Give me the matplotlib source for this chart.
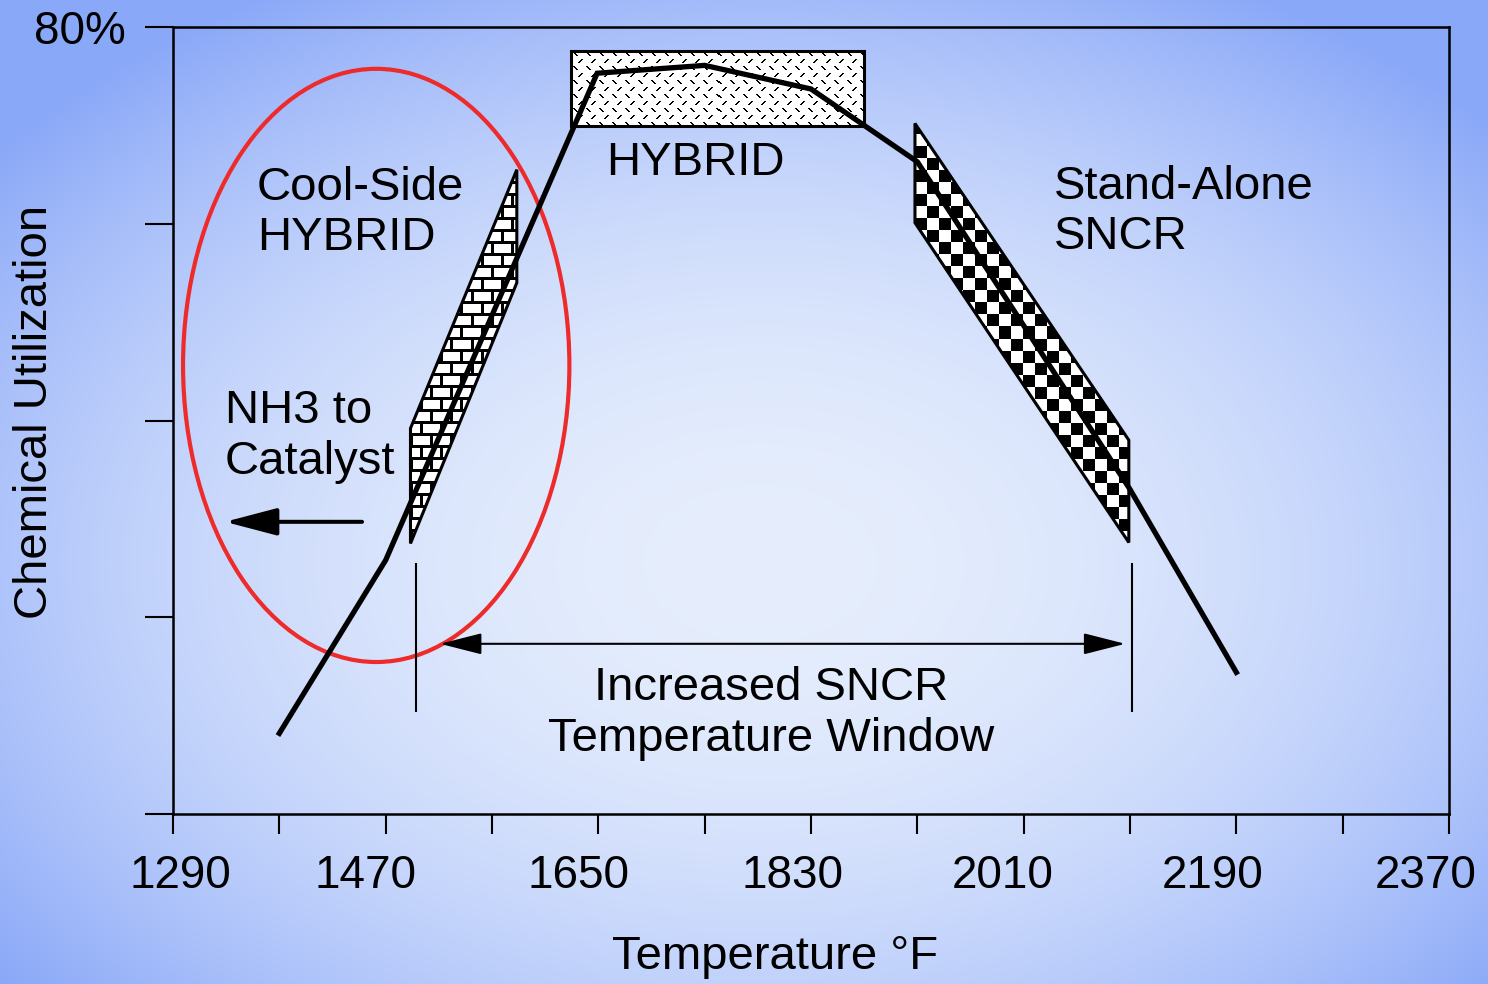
import numpy as np
import matplotlib

matplotlib.use("Agg")
import matplotlib.pyplot as plt
from matplotlib import transforms
from matplotlib.patches import Ellipse, Polygon

plt.rcParams["font.family"] = ["Liberation Sans", "DejaVu Sans"]

# utilization curve
temp_f = [1380, 1470, 1649, 1740, 1830, 1920, 2100, 2190]
utilization = [8.2, 25.8, 75.3, 76.1, 73.7, 66.3, 33.0, 14.4]

x_ticks = list(range(1290, 2371, 90))
x_tick_labels = ["1290", "1470", "1650", "1830", "2010", "2190", "2370"]
y_ticks = [0, 20, 40, 60, 80]

# shaded regions (temperature, utilization %)
hybrid_box_t = [1627, 1875, 1875, 1627]
hybrid_box_u = [77.6, 77.6, 69.9, 69.9]
cool_band_t = [1491, 1581, 1581, 1491]
cool_band_u = [39.2, 65.5, 54.0, 27.5]
sncr_band_t = [1918, 1918, 2099, 2099]
sncr_band_u = [70.2, 60.1, 27.6, 38.0]

# red ellipse around the cool-side region
ellipse_center = (1462, 45.6)
ellipse_size = (327, 60.3)

# temperature window markers
window_edges = [1496, 2102]
window_span_u = (10.4, 25.5)
window_arrow_t = (1516, 2096)
window_arrow_u = 17.3
nh3_arrow_t = (1450, 1334)
nh3_arrow_u = 29.7

FS = 34
LS = 1.2


def make_texture(kind, w, h):
    yy, xx = np.mgrid[0:h, 0:w]
    if kind == "checker":
        ink = ((xx // 12) + (yy // 12)) % 2 == 0
    elif kind == "brick":
        row = yy // 12
        ink = (yy % 12 < 3) | (((xx + (row % 2) * 10) % 20) < 3)
    else:
        tx, ty = xx % 13, yy % 14
        d1 = (ty >= 2) & (ty <= 5) & ((tx - ty == 0) | (tx - ty == 1))
        d2 = (ty >= 9) & (ty <= 12) & ((tx + ty == 19) | (tx + ty == 20))
        ink = d1 | d2
    rgba = np.ones((h, w, 4))
    rgba[ink, :3] = 0.0
    return rgba


def textured_patch(ax, ts, us, kind):
    poly = Polygon(list(zip(ts, us)), closed=True, facecolor="none",
                   edgecolor="black", lw=2.2, zorder=4)
    ax.add_patch(poly)
    x0, x1, y0, y1 = min(ts), max(ts), min(us), max(us)
    p0 = ax.transData.transform((x0, y0))
    p1 = ax.transData.transform((x1, y1))
    w = max(int(round(p1[0] - p0[0])), 1)
    h = max(int(round(p1[1] - p0[1])), 1)
    im = ax.imshow(make_texture(kind, w, h), extent=(x0, x1, y0, y1),
                   aspect="auto", interpolation="nearest", zorder=3)
    im.set_clip_path(poly)


W, H = 1488, 984
fig = plt.figure(figsize=(W / 100, H / 100), dpi=100)

# background: soft radial blue gradient
gy, gx = np.mgrid[0:H, 0:W]
r = np.sqrt(((gx - 760) / 980.0) ** 2 + ((gy - 420) / 660.0) ** 2)
r = np.clip(r, 0, 1) ** 2.0
inner = np.array([230, 238, 253]) / 255.0
outer = np.array([138, 168, 248]) / 255.0
bg = inner[None, None, :] + (outer - inner)[None, None, :] * r[:, :, None]
fig.figimage(bg[::-1], 0, 0, zorder=-10)

ax = fig.add_axes([173 / W, 1 - 814 / H, 1276 / W, 787 / H])
ax.set_facecolor("none")
ax.set_xlim(1290, 2370)
ax.set_ylim(0, 80)

ax.add_patch(Ellipse(ellipse_center, ellipse_size[0], ellipse_size[1],
                     fill=False, edgecolor="#ee2b2b", lw=3.0, zorder=2))

textured_patch(ax, hybrid_box_t, hybrid_box_u, "dash")
textured_patch(ax, cool_band_t, cool_band_u, "brick")
textured_patch(ax, sncr_band_t, sncr_band_u, "checker")

ax.plot(temp_f, utilization, color="black", lw=3.8, zorder=6,
        solid_joinstyle="miter")

ax.vlines(window_edges, *window_span_u, color="black", lw=1.5, zorder=5)
ax.annotate("", xy=(window_arrow_t[1], window_arrow_u),
            xytext=(window_arrow_t[0], window_arrow_u),
            arrowprops=dict(arrowstyle="<|-|>,head_length=1.3,head_width=0.33",
                            mutation_scale=20, lw=1.5, color="black",
                            shrinkA=0, shrinkB=0))
ax.annotate("", xy=(nh3_arrow_t[1], nh3_arrow_u),
            xytext=(nh3_arrow_t[0], nh3_arrow_u),
            arrowprops=dict(arrowstyle="-|>,head_length=1.6,head_width=0.42",
                            mutation_scale=20, lw=2.9, color="black",
                            shrinkA=0, shrinkB=0))

ax.text(1361, 61.1, "Cool-Side\nHYBRID", fontsize=FS, ha="left", va="center",
        linespacing=LS, zorder=8)
ax.text(1334, 38.4, "NH3 to\nCatalyst", fontsize=FS, ha="left", va="center",
        linespacing=LS, zorder=8)
ax.text(1732, 66.2, "HYBRID", fontsize=FS, ha="center", va="center", zorder=8)
ax.text(2036, 61.2, "Stand-Alone\nSNCR", fontsize=FS, ha="left", va="center",
        linespacing=LS, zorder=8)
ax.text(1796, 10.2, "Increased SNCR\nTemperature Window", fontsize=FS,
        ha="center", va="center", linespacing=LS, zorder=8)

# axes frame and ticks
for spine in ax.spines.values():
    spine.set_linewidth(1.8)
ax.set_xticks(x_ticks)
ax.set_xticklabels([])
ax.set_yticks(y_ticks)
ax.set_yticklabels(["", "", "", "", "80%"])
ax.tick_params(axis="x", direction="out", length=14.5, width=1.5)
ax.tick_params(axis="y", direction="out", length=20, width=1.5, pad=14,
               labelsize=33)

label_shift_px = [7, -20, -20, -19, -21, -24, -23]
base = transforms.blended_transform_factory(ax.transData, ax.transAxes)
for value, text, dx in zip(x_ticks[::2], x_tick_labels, label_shift_px):
    shift = transforms.ScaledTranslation(dx / 100, -74 / 100, fig.dpi_scale_trans)
    ax.text(value, 0, text, fontsize=33, ha="center", va="baseline",
            transform=base + shift, clip_on=False)

fig.text(35 / W, 1 - 412 / H, "Chemical Utilization", fontsize=FS,
         rotation=90, ha="center", va="center")
fig.text(775 / W, 1 - 957 / H, "Temperature \u00b0F", fontsize=FS,
         ha="center", va="center")

fig.savefig("out.png", dpi=100)
